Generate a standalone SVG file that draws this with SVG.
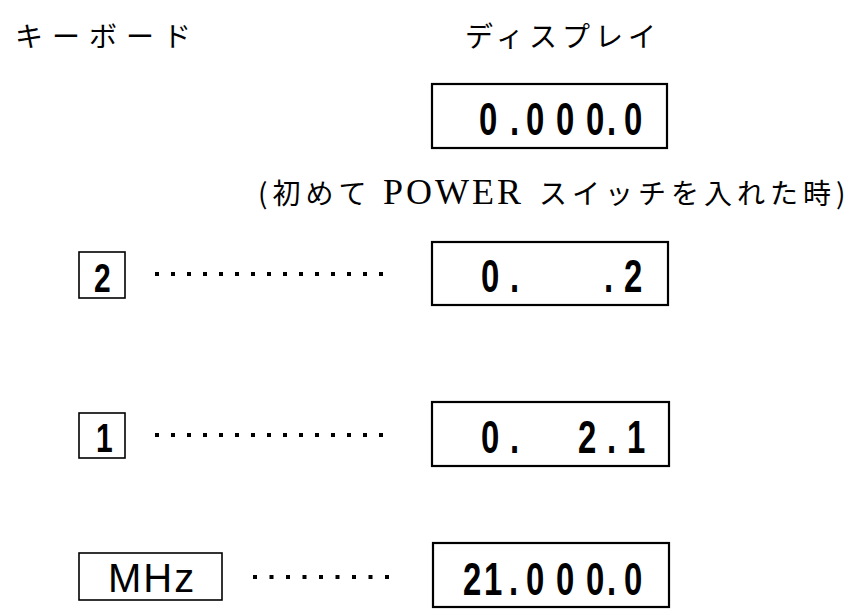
<svg xmlns="http://www.w3.org/2000/svg" width="865" height="609" viewBox="0 0 865 609">
<style>
  .jp { font-family: "Noto Sans CJK JP", "Noto Sans", sans-serif; font-size: 28px; fill: #000; }
  .disp { font-family: "Liberation Sans", Arial, sans-serif; font-weight: bold; font-size: 47px; fill: #000; white-space: pre; }
  .key { font-family: "Liberation Sans", Arial, sans-serif; font-size: 40px; fill: #000; }
  .kd { font-weight: bold; }
  .dbox { fill: none; stroke: #000; stroke-width: 2.2; }
  .kbox { fill: none; stroke: #000; stroke-width: 1.6; }
  .lead { stroke: #000; stroke-width: 4; fill: none; }
</style>
<rect width="865" height="609" fill="#fff"/>

<g id="headers">
  <text class="jp" x="15" y="47" letter-spacing="9">キーボード</text>
  <text class="jp" x="465" y="47" letter-spacing="5">ディスプレイ</text>
</g>

<g id="display0">
  <rect class="dbox" x="432" y="84" width="235" height="64"/>
  <text class="disp" transform="scale(0.7 1)" x="684.3 728.6 751.4 794.3 837.1 867.1 891.4" y="135">0.000.0</text>
</g>

<g id="note">
  <text y="204" class="jp"><tspan x="258" letter-spacing="5">(初めて</tspan><tspan x="383" font-family="'Liberation Serif', serif" font-size="36" letter-spacing="3">POWER</tspan><tspan x="539" letter-spacing="5">スイッチを入れた時)</tspan></text>
</g>

<g id="key2">
  <rect class="kbox" x="79" y="252" width="46" height="46"/>
  <text class="key kd" transform="scale(0.75 1)" x="125.3" y="292">2</text>
</g>
<g id="display2">
  <rect class="dbox" x="432" y="242" width="236" height="63"/>
  <text class="disp" xml:space="preserve" transform="scale(0.7 1)" x="687.1 728.6 751.4 794.3 837.1 862.9 891.4" y="292">0.   .2</text>
</g>

<g id="key1">
  <rect class="kbox" x="79" y="413" width="46" height="45"/>
  <text class="key kd" transform="scale(0.75 1)" x="128" y="452">1</text>
</g>
<g id="display3">
  <rect class="dbox" x="432" y="402" width="237" height="64"/>
  <text class="disp" xml:space="preserve" transform="scale(0.7 1)" x="687.1 728.6 751.4 794.3 825.7 867.1 895.7" y="453">0.  2.1</text>
</g>

<g id="keyMHz">
  <rect class="kbox" x="79" y="553" width="143" height="47"/>
  <text class="key" x="108" y="592" font-size="37" letter-spacing="2">MHz</text>
</g>
<g id="display4">
  <rect class="dbox" x="433" y="543" width="236" height="64"/>
  <text class="disp" transform="scale(0.7 1)" x="661.4 691.4 727.1 751.4 794.3 837.1 867.1 891.4" y="595">21.000.0</text>
</g>

<g id="connectors">
  <line class="lead" x1="155" y1="274" x2="383" y2="274" stroke-dasharray="4 12"/>
  <line class="lead" x1="155" y1="435" x2="383" y2="435" stroke-dasharray="4 12"/>
  <line class="lead" x1="253" y1="577" x2="389" y2="577" stroke-dasharray="4 12.5"/>
</g>
</svg>
